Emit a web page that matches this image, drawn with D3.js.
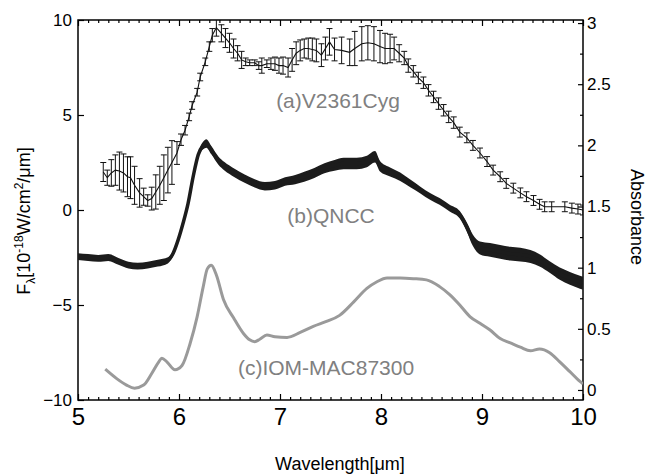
<!DOCTYPE html>
<html>
<head>
<meta charset="utf-8">
<script src="https://cdn.jsdelivr.net/npm/d3@7"></script>
<style>
body{margin:0;background:#fff;}
svg{display:block;font-family:"Liberation Sans",Arial,Helvetica,sans-serif;}
</style>
</head>
<body>
<svg id="chart" width="648" height="476"></svg>
<script>
// ---------- DATA ----------
// (a) V2361Cyg : wavelength, flux (left axis), error
const cygX = [5.25,5.29,5.33,5.37,5.41,5.45,5.49,5.52,5.56,5.61,5.65,5.69,5.73,5.77,5.81,5.85,5.89,5.93,5.98,6.02,6.06,6.10,6.13,6.18,6.21,6.26,6.30,6.33,6.37,6.42,6.46,6.50,6.54,6.58,6.62,6.66,6.70,6.75,6.79,6.82,6.87,6.91,6.95,6.99,7.03,7.08,7.12,7.16,7.20,7.24,7.28,7.32,7.36,7.41,7.45,7.49,7.54,7.61,7.69,7.74,7.81,7.87,7.93,7.99,8.04,8.09,8.13,8.18,8.23,8.27,8.32,8.37,8.42,8.47,8.52,8.57,8.62,8.67,8.72,8.78,8.85,8.91,8.98,9.05,9.11,9.18,9.24,9.31,9.38,9.44,9.51,9.57,9.62,9.69,9.82,9.89,9.95,10.0];
const cygY = [2.0,1.7,1.95,2.1,2.05,1.95,1.75,1.7,1.3,0.9,0.7,0.5,0.6,0.95,1.3,1.7,2.1,2.5,3.0,3.7,4.2,4.9,5.5,6.2,7.0,7.8,8.6,9.2,9.6,9.3,9.05,8.8,8.5,8.25,7.9,7.8,7.75,7.75,7.6,7.6,7.7,7.7,7.7,7.6,7.6,7.5,7.9,8.25,8.4,8.5,8.5,8.45,8.4,8.15,8.5,8.85,8.45,8.4,8.3,8.5,8.75,8.8,8.75,8.6,8.5,8.5,8.5,8.25,8.0,7.6,7.3,6.95,6.7,6.3,5.95,5.6,5.25,4.9,4.6,4.1,3.8,3.4,3.0,2.55,2.1,1.75,1.4,1.15,0.9,0.7,0.5,0.3,0.17,0.17,0.17,0.1,0.05,0.0];
const cygErr = [0.5,0.4,0.7,0.8,1.0,1.0,1.05,1.1,1.0,0.75,0.45,0.3,0.6,0.9,1.0,1.2,1.2,1.15,0.6,0.3,0.25,0.2,0.2,0.2,0.2,0.2,0.25,0.35,0.45,0.45,0.5,0.5,0.5,0.4,0.45,0.2,0.15,0.15,0.2,0.4,0.2,0.3,0.35,0.4,0.45,0.5,0.6,0.6,0.55,0.5,0.55,0.6,0.6,0.6,0.6,0.7,0.6,0.7,0.7,0.9,0.9,0.9,0.9,0.85,0.8,0.75,0.6,0.45,0.35,0.35,0.3,0.3,0.3,0.3,0.3,0.3,0.3,0.3,0.3,0.26,0.26,0.26,0.26,0.26,0.26,0.26,0.26,0.26,0.26,0.26,0.26,0.26,0.26,0.26,0.26,0.26,0.26,0.26];

// (b) QNCC : wavelength, flux (left axis), noise half-width
const qnccX = [5.0,5.10,5.20,5.30,5.40,5.50,5.59,5.69,5.79,5.89,5.94,5.99,6.04,6.09,6.14,6.19,6.24,6.27,6.32,6.39,6.45,6.55,6.65,6.75,6.85,6.95,7.05,7.15,7.24,7.34,7.44,7.54,7.63,7.76,7.86,7.94,7.99,8.09,8.19,8.29,8.39,8.49,8.58,8.68,8.78,8.85,8.91,8.98,9.08,9.18,9.28,9.38,9.48,9.57,9.67,9.77,9.87,9.97,10.0];
const qnccY = [-2.45,-2.5,-2.55,-2.5,-2.7,-2.9,-2.95,-2.9,-2.8,-2.65,-2.3,-1.6,-0.7,0.35,1.75,2.9,3.4,3.5,3.15,2.6,2.3,1.95,1.65,1.4,1.25,1.3,1.5,1.6,1.75,1.95,2.2,2.35,2.45,2.45,2.55,2.8,2.3,2.0,1.75,1.4,1.05,0.7,0.45,0.1,-0.25,-0.9,-1.6,-2.0,-2.1,-2.2,-2.3,-2.35,-2.45,-2.65,-3.0,-3.35,-3.6,-3.8,-3.85];
const qnccNoise = [0.18,0.18,0.18,0.18,0.18,0.18,0.18,0.18,0.18,0.16,0.14,0.12,0.12,0.12,0.12,0.14,0.2,0.22,0.22,0.22,0.22,0.22,0.22,0.22,0.22,0.22,0.22,0.24,0.26,0.26,0.26,0.28,0.3,0.3,0.3,0.3,0.28,0.24,0.22,0.2,0.18,0.18,0.18,0.18,0.2,0.24,0.3,0.34,0.36,0.36,0.36,0.36,0.34,0.32,0.3,0.32,0.34,0.34,0.34];

// (c) IOM-MAC87300 : wavelength, absorbance (right axis)
const iomX = [5.27,5.38,5.48,5.56,5.65,5.73,5.80,5.83,5.88,5.96,6.03,6.11,6.18,6.24,6.28,6.32,6.37,6.44,6.54,6.64,6.70,6.75,6.80,6.87,6.95,7.07,7.20,7.33,7.46,7.59,7.73,7.86,7.96,8.06,8.19,8.32,8.45,8.58,8.68,8.78,8.88,8.98,9.08,9.18,9.28,9.38,9.48,9.57,9.67,9.77,9.87,9.97,10.0];
const iomY = [0.17,0.095,0.04,0.015,0.04,0.135,0.23,0.26,0.23,0.165,0.2,0.38,0.6,0.845,0.99,1.02,0.94,0.74,0.59,0.46,0.41,0.395,0.415,0.45,0.435,0.43,0.47,0.52,0.56,0.61,0.72,0.83,0.885,0.915,0.915,0.91,0.9,0.845,0.78,0.695,0.6,0.545,0.49,0.42,0.385,0.35,0.32,0.335,0.305,0.23,0.15,0.07,0.05];

// axes
const xTicks = [5,6,7,8,9,10];
const yLeftTicks = [-10,-5,0,5,10];
const yRightTicks = [0,0.5,1,1.5,2,2.5,3];
const labels = ["(a)V2361Cyg","(b)QNCC","(c)IOM-MAC87300"];

// ---------- CHART ----------
const svg = d3.select("#chart");
const L = 78, R = 583, T = 20, B = 400;
const x = d3.scaleLinear().domain([5,10]).range([L,R]);
const yL = d3.scaleLinear().domain([-10,10]).range([B,T]);
const yR = d3.scaleLinear().domain([-0.082,3.025]).range([B,T]);

svg.append("defs").append("clipPath").attr("id","clip")
  .append("rect").attr("x",L).attr("y",T).attr("width",R-L).attr("height",B-T);

const minorX = d3.range(50,101).map(v=>v/10).filter(v=>!xTicks.includes(v));
const minorR = [0.25,0.75,1.25,1.75,2.25,2.75];

function styleAxis(g){
  g.select(".domain").remove();
  g.selectAll(".tick line").attr("stroke","#000").attr("stroke-width",1.2);
}
// bottom
svg.append("g").attr("transform",`translate(0,${B})`)
  .call(d3.axisBottom(x).tickValues(xTicks).tickSizeInner(-6).tickSizeOuter(0).tickPadding(8).tickFormat(d3.format("d")))
  .call(styleAxis)
  .call(g=>g.selectAll("text").attr("font-size",24).attr("fill","#000").attr("font-family","Liberation Sans, Arial, sans-serif"));
svg.append("g").attr("transform",`translate(0,${B})`)
  .call(d3.axisBottom(x).tickValues(minorX).tickSizeInner(-3).tickSizeOuter(0).tickFormat(""))
  .call(styleAxis);
// top
svg.append("g").attr("transform",`translate(0,${T})`)
  .call(d3.axisTop(x).tickValues(xTicks).tickSizeInner(-6).tickSizeOuter(0).tickFormat(""))
  .call(styleAxis);
svg.append("g").attr("transform",`translate(0,${T})`)
  .call(d3.axisTop(x).tickValues(minorX).tickSizeInner(-3).tickSizeOuter(0).tickFormat(""))
  .call(styleAxis);
// left
svg.append("g").attr("transform",`translate(${L},0)`)
  .call(d3.axisLeft(yL).tickValues(yLeftTicks).tickSizeInner(-6).tickSizeOuter(0).tickPadding(6).tickFormat(d3.format("d")))
  .call(styleAxis)
  .call(g=>g.selectAll("text").attr("font-size",17).attr("fill","#000").attr("font-family","Liberation Sans, Arial, sans-serif"));
// right
svg.append("g").attr("transform",`translate(${R},0)`)
  .call(d3.axisRight(yR).tickValues(yRightTicks).tickSizeInner(-5).tickSizeOuter(0).tickPadding(4).tickFormat(d=>String(d)))
  .call(styleAxis)
  .call(g=>g.selectAll("text").attr("font-size",17).attr("fill","#000").attr("font-family","Liberation Sans, Arial, sans-serif"));
svg.append("g").attr("transform",`translate(${R},0)`)
  .call(d3.axisRight(yR).tickValues(minorR).tickSizeInner(-3).tickSizeOuter(0).tickFormat(""))
  .call(styleAxis);

// frame
svg.append("rect").attr("x",L).attr("y",T).attr("width",R-L).attr("height",B-T)
  .attr("fill","none").attr("stroke","#000").attr("stroke-width",1.5);

const plot = svg.append("g").attr("clip-path","url(#clip)");

// (c) IOM
const iom = iomX.map((v,i)=>[v,iomY[i]]);
plot.append("path").datum(iom)
  .attr("d",d3.line().x(d=>x(d[0])).y(d=>yR(d[1])).curve(d3.curveMonotoneX))
  .attr("fill","none").attr("stroke","#9a9a9a").attr("stroke-width",3).attr("stroke-linejoin","round");

// (b) QNCC
const qn = qnccX.map((v,i)=>[v,qnccY[i],qnccNoise[i]]);
plot.append("path").datum(qn)
  .attr("d",d3.area().x(d=>x(d[0])).y0(d=>yL(d[1]-d[2])).y1(d=>yL(d[1]+d[2])).curve(d3.curveMonotoneX))
  .attr("fill","#1c1c1c");
plot.append("path").datum(qn)
  .attr("d",d3.line().x(d=>x(d[0])).y(d=>yL(d[1])).curve(d3.curveMonotoneX))
  .attr("fill","none").attr("stroke","#1c1c1c").attr("stroke-width",3.5).attr("stroke-linejoin","round");

// (a) V2361Cyg
const cy = cygX.map((v,i)=>[v,cygY[i],cygErr[i]]);
plot.append("path").datum(cy)
  .attr("d",d3.line().x(d=>x(d[0])).y(d=>yL(d[1])))
  .attr("fill","none").attr("stroke","#111").attr("stroke-width",1.1);
const eb = plot.append("g").attr("stroke","#111").attr("stroke-width",1);
const cap = 3;
cy.forEach(d=>{
  const cx = x(d[0]), y0 = yL(d[1]-d[2]), y1 = yL(d[1]+d[2]);
  eb.append("line").attr("x1",cx).attr("x2",cx).attr("y1",y0).attr("y2",y1);
  eb.append("line").attr("x1",cx-cap).attr("x2",cx+cap).attr("y1",y0).attr("y2",y0);
  eb.append("line").attr("x1",cx-cap).attr("x2",cx+cap).attr("y1",y1).attr("y2",y1);
});

// series labels
const lab = svg.append("g").attr("fill","#808080").attr("font-size",21).attr("text-anchor","middle");
lab.append("text").attr("x",338).attr("y",108).text(labels[0]);
lab.append("text").attr("x",331).attr("y",223).text(labels[1]);
lab.append("text").attr("x",326).attr("y",375).text(labels[2]);

// axis titles
svg.append("text").attr("x",340).attr("y",470).attr("text-anchor","middle").attr("font-size",18)
  .text("Wavelength[μm]");
const yt = svg.append("text").attr("transform","translate(30,221) rotate(-90)").attr("text-anchor","middle").attr("font-size",18);
yt.append("tspan").text("F");
yt.append("tspan").attr("font-size",12).attr("dy",5).text("λ");
yt.append("tspan").attr("dy",-5).text("[10");
yt.append("tspan").attr("font-size",12).attr("dy",-7).text("-18");
yt.append("tspan").attr("dy",7).text("W/cm");
yt.append("tspan").attr("font-size",12).attr("dy",-7).text("2");
yt.append("tspan").attr("dy",7).text("/μm]");
svg.append("text").attr("transform","translate(631,217) rotate(90)").attr("text-anchor","middle").attr("font-size",18)
  .text("Absorbance");
</script>
</body>
</html>
